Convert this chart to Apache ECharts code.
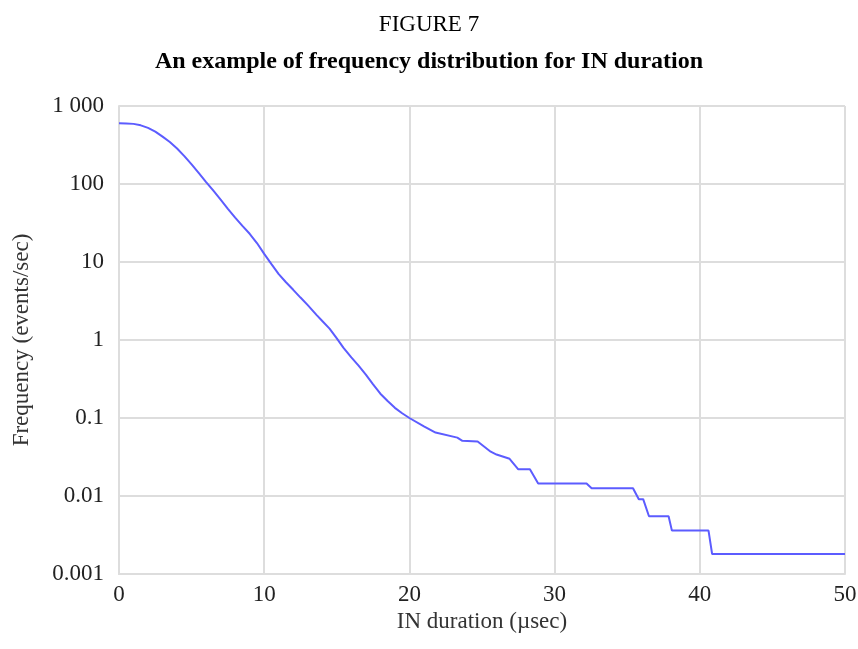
<!DOCTYPE html>
<html>
<head>
<meta charset="utf-8">
<script src="https://cdn.jsdelivr.net/npm/echarts@6/dist/echarts.min.js"></script>
<style>
  html, body { margin: 0; padding: 0; background: #fff; }
  #chart { width: 858px; height: 649px; }
</style>
</head>
<body>
<div id="chart"></div>
<script>
// IN duration (usec) and frequency (events/sec)
const durations = [0, 0.5, 1, 1.5, 2, 2.5, 3, 3.5, 4, 4.5, 5, 5.5, 6, 6.5, 7, 7.5, 8, 8.5, 9, 9.5, 10, 10.5, 11, 11.5,
  12, 12.5, 13, 13.6, 14, 14.5, 15, 15.45, 16, 16.5, 17, 17.5, 18, 18.5, 19, 19.5, 20,
  21, 21.8, 23.3, 23.65, 24.7, 25.6, 26, 26.9, 27.5, 28.3, 28.87, 32.2, 32.55, 35.4, 35.8, 36.1,
  36.5, 37.85, 38.08, 40.6, 40.85, 50];
const frequency = [600, 598, 590, 565, 525, 470, 405, 345, 285, 228, 178, 138, 106, 82, 63, 48, 37, 29, 23, 17.5, 12.7, 9.4, 7, 5.5,
  4.4, 3.5, 2.8, 2.1, 1.75, 1.4, 1.05, 0.8, 0.6, 0.47, 0.36, 0.27, 0.205, 0.165, 0.135, 0.115, 0.1,
  0.078, 0.065, 0.056, 0.051, 0.05, 0.037, 0.034, 0.03, 0.022, 0.022, 0.0145, 0.0145, 0.0126, 0.0126, 0.0091, 0.0091,
  0.0055, 0.0055, 0.0036, 0.0036, 0.0018, 0.0018];
const yTickLabels = { 1000: "1 000", 100: "100", 10: "10", 1: "1", 0.1: "0.1", 0.01: "0.01", 0.001: "0.001" };

const serif = "'Liberation Serif', 'Times New Roman', serif";

let myChart = echarts.init(document.getElementById("chart"));
myChart.setOption({
  animation: false,
  title: [
    {
      text: "FIGURE 7",
      left: "center",
      top: 8,
      textStyle: { fontFamily: serif, fontSize: 23, fontWeight: "normal", color: "#000" }
    },
    {
      text: "An example of frequency distribution for IN duration",
      left: "center",
      top: 45,
      textStyle: { fontFamily: serif, fontSize: 24, fontWeight: "bold", color: "#000" }
    }
  ],
  grid: { left: 119, right: 13, top: 106, bottom: 75, outerBoundsMode: "none" },
  xAxis: {
    type: "value",
    min: 0,
    max: 50,
    interval: 10,
    name: "IN duration (\u00b5sec)",
    nameLocation: "middle",
    nameGap: 36,
    nameTextStyle: { fontFamily: serif, fontSize: 23, color: "#333" },
    axisLine: { lineStyle: { color: "#ddd", width: 2 } },
    axisTick: { show: false },
    axisLabel: { fontFamily: serif, fontSize: 23, color: "#222", margin: 9 },
    splitLine: { lineStyle: { color: "#ddd", width: 2 } }
  },
  yAxis: {
    type: "log",
    logBase: 10,
    min: 0.001,
    max: 1000,
    name: "Frequency (events/sec)",
    nameLocation: "middle",
    nameGap: 86,
    nameTextStyle: { fontFamily: serif, fontSize: 23, color: "#333" },
    axisLine: { show: true, lineStyle: { color: "#ddd", width: 2 } },
    axisTick: { show: false },
    axisLabel: {
      fontFamily: serif,
      fontSize: 23,
      color: "#222",
      margin: 15,
      formatter: function (v) {
        const key = Number(v.toPrecision(3));
        return yTickLabels[key] !== undefined ? yTickLabels[key] : "";
      }
    },
    splitLine: { lineStyle: { color: "#ddd", width: 2 } }
  },
  series: [
    {
      type: "line",
      data: durations.map((d, i) => [d, frequency[i]]),
      showSymbol: false,
      lineStyle: { color: "#5c5cff", width: 2 }
    }
  ]
});
</script>
</body>
</html>
